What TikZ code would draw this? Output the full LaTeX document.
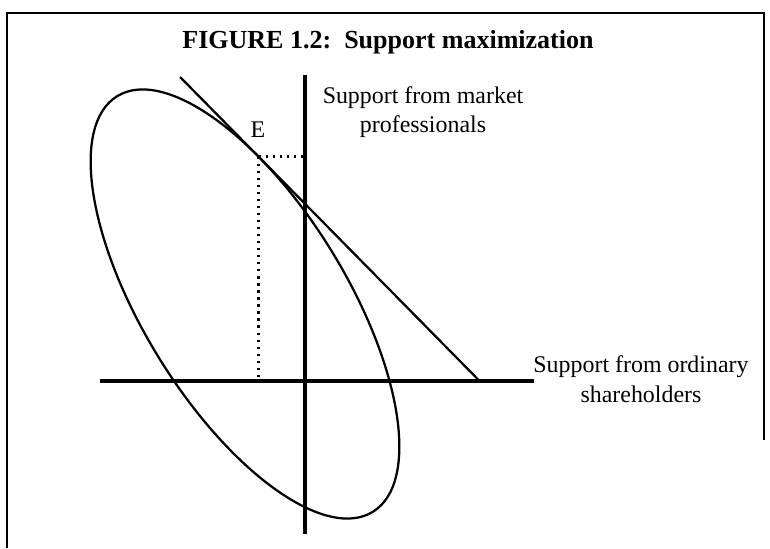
\documentclass[tikz,border=0pt]{standalone}
\usepackage{fontspec}
\setmainfont{Liberation Serif}
\usetikzlibrary{calc}
\begin{document}
\begin{tikzpicture}[x=0.025cm, y=0.025cm, every node/.style={font=\fontsize{17}{21}\selectfont, inner sep=1pt},
  axis/.style={line width=2.3pt}, curve/.style={line width=1.6pt}, dotline/.style={line width=1.8pt, dash pattern=on 1.6pt off 3.4pt}]
  \useasboundingbox (0,0) rectangle (770,548);
  % Frame
  \draw[line width=1.4pt] (7,0) -- (7,535) -- (764,535) -- (764,108);
  \node[font=\fontsize{18.5}{22}\selectfont\bfseries] (title) at (388,506) {FIGURE 1.2:\ \ Support maximization};
  % Axes
  \coordinate (vtop) at (305,473); \coordinate (vbot) at (305,14);
  \coordinate (hleft) at (100,167); \coordinate (hright) at (534,167);
  \draw[axis] (vbot) -- (vtop);
  \draw[axis] (hleft) -- (hright);
  % Ellipse and tangent point
  \coordinate (ctr) at (245,244);
  \begin{scope}[shift={(ctr)}, rotate=-58.4]
    \draw[curve] (0,0) ellipse [x radius=244, y radius=101.5];
    \coordinate (E) at (119:244 and 101.5);
  \end{scope}
  % Tangent line
  \coordinate (tanA) at ($(E)+0.511*(-153.7,156)$);
  \coordinate (tanB) at ($(E)-1.438*(-153.7,156)$);
  \draw[curve] (tanA) -- (tanB);
  % Dotted guides
  \draw[dotline] (E) -- (E -| vtop);
  \draw[dotline] (E) -- (E |- hleft);
  % Labels
  \node (Elbl) at (258,418) {E};
  \node[align=center] (mkt) at (423,436) {Support from market\\professionals};
  \node[align=center] (ord) at (641,169) {Support from ordinary\\shareholders};
\end{tikzpicture}
\end{document}
